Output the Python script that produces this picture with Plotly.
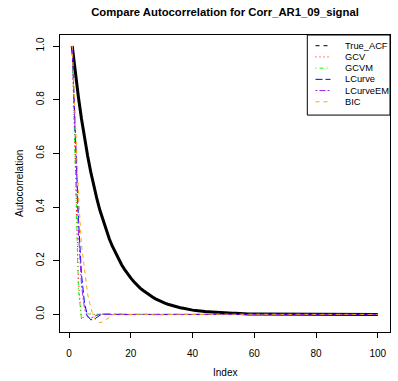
import plotly.graph_objects as go

# ---------------- data ----------------
index = list(range(1, 101))

true_acf = [
    1.000, 0.900, 0.810, 0.729, 0.656, 0.590, 0.531, 0.478, 0.430, 0.387,
    0.349, 0.314, 0.282, 0.254, 0.229, 0.206, 0.185, 0.167, 0.150, 0.135,
    0.122, 0.109, 0.098, 0.089, 0.080, 0.072, 0.065, 0.058, 0.052, 0.047,
    0.042, 0.038, 0.034, 0.031, 0.028, 0.025, 0.023, 0.020, 0.018, 0.016,
    0.015, 0.013, 0.012, 0.011, 0.010, 0.009, 0.008, 0.007, 0.006, 0.006,
    0.005, 0.005, 0.004, 0.004, 0.003, 0.003, 0.003, 0.002, 0.002, 0.002,
    0.002, 0.002, 0.001, 0.001, 0.001, 0.001, 0.001, 0.001, 0.001, 0.001,
    0.001, 0.001, 0.001, 0.000, 0.000, 0.000, 0.000, 0.000, 0.000, 0.000,
    0.000, 0.000, 0.000, 0.000, 0.000, 0.000, 0.000, 0.000, 0.000, 0.000,
    0.000, 0.000, 0.000, 0.000, 0.000, 0.000, 0.000, 0.000, 0.000, 0.000,
]

gcv = [
    1.000, 0.560, 0.120, -0.019, -0.006, 0.001, 0.002, 0.000, -0.001, 0.000,
    0.001, 0.000, -0.001, 0.000, 0.000, 0.001, 0.000, 0.000, -0.001, 0.000,
    0.000, 0.001, 0.000, 0.000, -0.001, 0.000, 0.000, 0.000, 0.001, 0.000,
    0.000, -0.001, 0.000, 0.000, 0.000, 0.001, 0.000, 0.000, 0.000, -0.001,
    0.000, 0.000, 0.000, 0.000, 0.001, 0.000, 0.000, 0.000, 0.000, 0.000,
    -0.001, 0.000, 0.000, 0.000, 0.000, 0.000, 0.000, 0.001, 0.000, 0.000,
    0.000, 0.000, 0.000, 0.000, -0.001, 0.000, 0.000, 0.000, 0.000, 0.000,
    0.000, 0.000, 0.001, 0.000, 0.000, 0.000, 0.000, 0.000, 0.000, 0.000,
    0.000, -0.001, 0.000, 0.000, 0.000, 0.000, 0.000, 0.000, 0.000, 0.000,
    0.000, 0.000, 0.000, 0.001, 0.000, 0.000, 0.000, 0.000, 0.000, 0.000,
]

gcvm = [
    1.000, 0.540, 0.100, -0.017, -0.004, 0.002, 0.001, 0.000, -0.001, 0.000,
    0.000, 0.001, 0.000, -0.001, 0.000, 0.000, 0.001, 0.000, 0.000, 0.000,
    -0.001, 0.000, 0.000, 0.001, 0.000, 0.000, 0.000, -0.001, 0.000, 0.000,
    0.001, 0.000, 0.000, 0.000, 0.000, -0.001, 0.000, 0.000, 0.001, 0.000,
    0.000, 0.000, 0.000, -0.001, 0.000, 0.000, 0.000, 0.000, 0.001, 0.000,
    0.000, 0.000, 0.000, 0.000, 0.000, -0.001, 0.000, 0.000, 0.000, 0.000,
    0.000, 0.001, 0.000, 0.000, 0.000, 0.000, 0.000, 0.000, -0.001, 0.000,
    0.000, 0.000, 0.000, 0.000, 0.000, 0.000, 0.001, 0.000, 0.000, 0.000,
    0.000, 0.000, 0.000, 0.000, -0.001, 0.000, 0.000, 0.000, 0.000, 0.000,
    0.000, 0.000, 0.000, 0.000, 0.000, 0.000, 0.001, 0.000, 0.000, 0.000,
]

lcurve = [
    1.000, 0.690, 0.360, 0.150, 0.040, -0.006, -0.020, -0.019, -0.010, -0.003,
    0.001, 0.002, 0.001, 0.000, -0.001, 0.000, 0.001, 0.000, 0.000, -0.001,
    0.000, 0.000, 0.001, 0.000, 0.000, 0.000, -0.001, 0.000, 0.000, 0.001,
    0.000, 0.000, 0.000, -0.001, 0.000, 0.000, 0.000, 0.001, 0.000, 0.000,
    0.000, 0.000, -0.001, 0.000, 0.000, 0.000, 0.000, 0.001, 0.000, 0.000,
    0.000, 0.000, 0.000, 0.000, -0.001, 0.000, 0.000, 0.000, 0.000, 0.000,
    0.001, 0.000, 0.000, 0.000, 0.000, 0.000, 0.000, -0.001, 0.000, 0.000,
    0.000, 0.000, 0.000, 0.000, 0.000, 0.001, 0.000, 0.000, 0.000, 0.000,
    0.000, 0.000, 0.000, -0.001, 0.000, 0.000, 0.000, 0.000, 0.000, 0.000,
    0.000, 0.000, 0.000, 0.000, 0.000, 0.001, 0.000, 0.000, 0.000, 0.000,
]

lcurve_em = [
    1.000, 0.640, 0.310, 0.110, 0.020, -0.010, -0.014, -0.008, -0.002, 0.001,
    0.001, 0.000, -0.001, 0.000, 0.001, 0.000, 0.000, -0.001, 0.000, 0.000,
    0.001, 0.000, 0.000, 0.000, -0.001, 0.000, 0.000, 0.001, 0.000, 0.000,
    0.000, 0.000, -0.001, 0.000, 0.000, 0.000, 0.001, 0.000, 0.000, 0.000,
    0.000, -0.001, 0.000, 0.000, 0.000, 0.000, 0.000, 0.001, 0.000, 0.000,
    0.000, 0.000, 0.000, -0.001, 0.000, 0.000, 0.000, 0.000, 0.000, 0.001,
    0.000, 0.000, 0.000, 0.000, 0.000, 0.000, -0.001, 0.000, 0.000, 0.000,
    0.000, 0.000, 0.000, 0.000, 0.001, 0.000, 0.000, 0.000, 0.000, 0.000,
    0.000, 0.000, -0.001, 0.000, 0.000, 0.000, 0.000, 0.000, 0.000, 0.000,
    0.000, 0.000, 0.000, 0.000, 0.001, 0.000, 0.000, 0.000, 0.000, 0.000,
]

bic = [
    1.000, 0.730, 0.450, 0.260, 0.160, 0.075, 0.025, -0.010, -0.026, -0.031,
    -0.027, -0.018, -0.009, -0.003, 0.001, 0.002, 0.002, 0.001, 0.000, -0.001,
    -0.001, 0.000, 0.001, 0.001, 0.000, -0.001, -0.002, -0.002, -0.003, -0.002,
    -0.001, 0.000, 0.001, 0.001, 0.001, 0.000, 0.000, -0.001, -0.001, -0.002,
    -0.002, -0.001, 0.000, 0.000, 0.001, 0.001, 0.000, 0.000, 0.000, -0.001,
    0.000, 0.000, 0.000, 0.001, 0.000, 0.000, 0.000, 0.000, -0.001, 0.000,
    0.000, 0.000, 0.000, 0.000, 0.000, 0.001, 0.000, 0.000, 0.000, 0.000,
    0.000, 0.000, -0.001, 0.000, 0.000, 0.000, 0.000, 0.000, 0.000, 0.000,
    0.000, 0.000, 0.000, 0.000, 0.000, 0.001, 0.000, 0.000, 0.000, 0.000,
    0.000, 0.000, 0.000, 0.000, 0.000, 0.000, 0.000, -0.001, 0.000, 0.000,
]

legend_names = ["True_ACF", "GCV", "GCVM", "LCurve", "LCurveEM", "BIC"]
x_ticks = [0, 20, 40, 60, 80, 100]
y_ticks = [0.0, 0.2, 0.4, 0.6, 0.8, 1.0]
y_tick_labels = ["0.0", "0.2", "0.4", "0.6", "0.8", "1.0"]

# ---------------- styles ----------------
FONT = "Liberation Sans, Arial, Helvetica, sans-serif"
W, H = 398, 381
L, R, T, B = 60, 390, 35, 331.7   # plot area in pixels

series = [
    (gcv, "GCV", "#FF0000", "1px,3px"),
    (gcvm, "GCVM", "#00FF00", "1px,3px,4px,3px"),
    (lcurve, "LCurve", "#0000FF", "7px,3px"),
    (lcurve_em, "LCurveEM", "#A020F0", "2px,2px,6px,2px"),
    (bic, "BIC", "#FFA500", "4px,4px"),
]
legend_styles = [("#000000", "4px,4px")] + [(c, d) for _, _, c, d in series]

fig = go.Figure()
fig.add_trace(go.Scatter(x=index, y=true_acf, mode="lines", name="True_ACF",
                         line=dict(color="black", width=3), showlegend=False))
for vals, name, color, dash in series:
    fig.add_trace(go.Scatter(x=index, y=vals, mode="lines", name=name,
                             line=dict(color=color, width=1, dash=dash),
                             showlegend=False))


def px2x(p):
    return (p - L) / (R - L)


def px2y(p):
    return (B - p) / (B - T)


# manual R-style legend box
shapes = [dict(type="rect", xref="paper", yref="paper",
               x0=px2x(307.3), x1=px2x(R), y0=px2y(115), y1=px2y(T),
               line=dict(color="black", width=1), fillcolor="white", layer="above")]
annotations = []
row0, step = 45.7, 11.2
for i, (name, (color, dash)) in enumerate(zip(legend_names, legend_styles)):
    yy = px2y(row0 + i * step)
    shapes.append(dict(type="line", xref="paper", yref="paper",
                       x0=px2x(315.5), x1=px2x(330.5), y0=yy, y1=yy,
                       line=dict(color=color, width=1, dash=dash), layer="above"))
    annotations.append(dict(text=name, xref="paper", yref="paper",
                            x=px2x(342.5), y=yy, xanchor="left", yanchor="middle",
                            showarrow=False, font=dict(size=9.3, color="black", family=FONT)))

annotations.append(dict(text="Index", xref="paper", yref="paper",
                        x=0.5, y=px2y(372.5), xanchor="center", yanchor="middle",
                        showarrow=False, font=dict(size=10, color="black", family=FONT)))
annotations.append(dict(text="Autocorrelation", xref="paper", yref="paper",
                        x=px2x(19.5), y=0.5, xanchor="center", yanchor="middle",
                        textangle=-90, showarrow=False,
                        font=dict(size=10, color="black", family=FONT)))

fig.update_layout(
    width=W, height=H,
    margin=dict(l=L, r=W - R, t=T, b=H - B, pad=0),
    paper_bgcolor="white", plot_bgcolor="white",
    font=dict(family=FONT, size=10, color="black"),
    title=dict(text="<b>Compare Autocorrelation for Corr_AR1_09_signal</b>",
               x=(L + R) / 2 / W, xanchor="center", y=1 - 12.5 / H, yanchor="middle",
               font=dict(size=11.3, family=FONT, color="black")),
    shapes=shapes, annotations=annotations,
    showlegend=False,
)
fig.update_xaxes(range=[-2.96, 103.96], tickvals=x_ticks, ticks="outside", ticklen=5,
                 tickcolor="black", showline=True, linecolor="black", linewidth=1,
                 mirror=True, showgrid=False, zeroline=False,
                 tickfont=dict(size=10, family=FONT, color="black"),
                 ticklabelstandoff=7)
fig.update_yaxes(range=[-0.0655, 1.041], tickvals=y_ticks, ticktext=y_tick_labels,
                 ticks="outside", ticklen=6, tickcolor="black", showline=True,
                 linecolor="black", linewidth=1, mirror=True, showgrid=False,
                 zeroline=False, tickangle=-90,
                 tickfont=dict(size=10, family=FONT, color="black"),
                 ticklabelstandoff=5)

fig.write_html("out.html", config={"displayModeBar": False},
               post_script="document.body.style.margin='0';")
